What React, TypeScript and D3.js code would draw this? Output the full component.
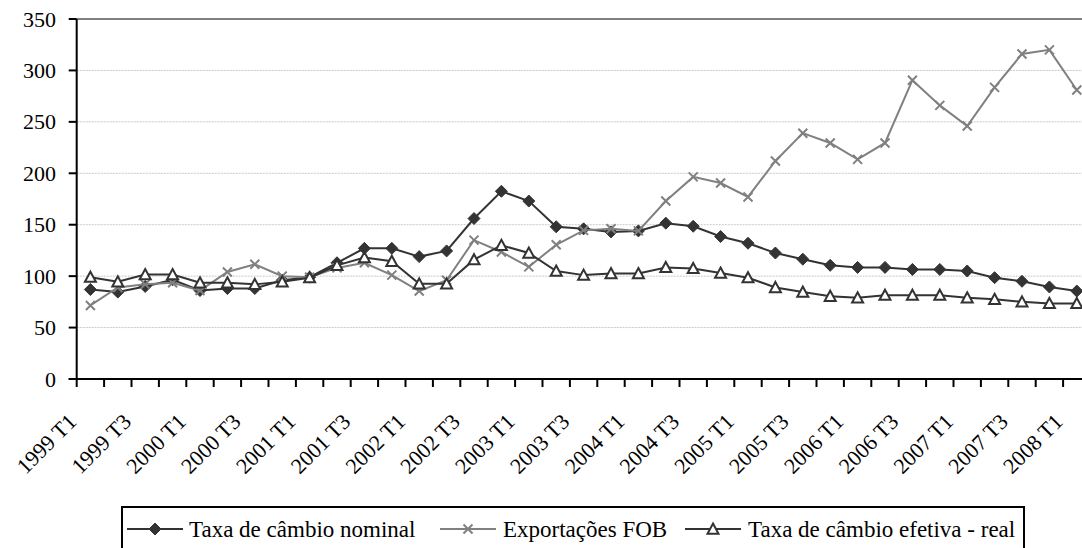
import React from "react";
import * as d3 from "d3";

const categories = [
  "1999 T1","1999 T2","1999 T3","1999 T4",
  "2000 T1","2000 T2","2000 T3","2000 T4",
  "2001 T1","2001 T2","2001 T3","2001 T4",
  "2002 T1","2002 T2","2002 T3","2002 T4",
  "2003 T1","2003 T2","2003 T3","2003 T4",
  "2004 T1","2004 T2","2004 T3","2004 T4",
  "2005 T1","2005 T2","2005 T3","2005 T4",
  "2006 T1","2006 T2","2006 T3","2006 T4",
  "2007 T1","2007 T2","2007 T3","2007 T4",
  "2008 T1",
];

const nominal = [87,84.5,90,96.5,86,88,88,96,99,113,127,127,119,124.5,156,182.5,173,148,146,143,144,151.5,148.5,138.5,132,122.5,116.5,110.5,108.5,108.5,106.5,106.5,105,98.5,95,89.5,85.5];
const exportsFob = [71.5,89,92,93.5,86,104,111.5,100,99,108,113,101,85.5,96,135,123.5,109,130.5,144.5,146,144,173,196.5,190.5,177,212,239,229.5,213.5,229.5,290.5,266,246,283.5,316,320,281];
const realRate = [99,94.5,101.5,101.5,93.5,93.5,92,94.5,98.5,110.5,118,114.5,92.5,92.5,116,130,122.5,105,101,102.5,102.5,108.5,107.5,103,98.5,89,84.5,80.5,79,81.5,81.5,81.5,79,77.5,75,73.5,73.5];

const yTicks = [0, 50, 100, 150, 200, 250, 300, 350];
const seriesNames = ["Taxa de câmbio nominal", "Exportações FOB", "Taxa de câmbio efetiva - real"];

const FONT = "Times New Roman";

function Marker({ kind, x, y }: { kind: string; x: number; y: number }) {
  if (kind === "diamond") {
    const r = 6;
    return <path d={`M${x},${y - r}L${x + r},${y}L${x},${y + r}L${x - r},${y}Z`} fill="#333" stroke="#333" strokeWidth={1} />;
  }
  if (kind === "x") {
    const r = 4.5;
    return <path d={`M${x - r},${y - r}L${x + r},${y + r}M${x - r},${y + r}L${x + r},${y - r}`} stroke="#808080" strokeWidth={2} fill="none" />;
  }
  const r = 5.5;
  return <path d={`M${x},${y - r}L${x + r},${y + r * 0.85}L${x - r},${y + r * 0.85}Z`} fill="#fff" stroke="#333" strokeWidth={2} strokeLinejoin="miter" />;
}

function T(props: any) {
  return <text {...props} fontFamily={FONT} style={{ fontFamily: FONT }} fill="#000" />;
}

export default function App() {
  const W = 1082, H = 548;
  const left = 76.7, step = 27.4, top = 19, bottom = 379;
  const x = d3.scaleBand<string>().domain(categories).range([left, left + step * categories.length]);
  const y = d3.scaleLinear().domain([0, 350]).range([bottom, top]);
  const cx = (c: string) => (x(c) as number) + x.bandwidth() / 2;

  const series = [
    { name: seriesNames[0], values: nominal, color: "#333", kind: "diamond" },
    { name: seriesNames[1], values: exportsFob, color: "#808080", kind: "x" },
    { name: seriesNames[2], values: realRate, color: "#333", kind: "triangle" },
  ];

  const line = d3.line<number>().x((_, i) => cx(categories[i])).y((v) => y(v));
  const right = left + step * categories.length;

  const legendTop = 507;
  const legendItems = [
    { sx: 127, tx: 189 },
    { sx: 440, tx: 503 },
    { sx: 685, tx: 748 },
  ];

  return (
    <svg width={W} height={H} fontFamily={FONT} style={{ position: "absolute", left: 0, top: 0, fontFamily: FONT }}>
      <rect x={0} y={0} width={W} height={H} fill="#fff" />
      {yTicks.filter((t) => t > 0 && t < 350).map((t) => (
        <line key={t} x1={left} x2={right} y1={y(t)} y2={y(t)} stroke="#c8c8c8" strokeWidth={1} strokeDasharray="2,1" />
      ))}
      <line x1={left} x2={right} y1={y(350)} y2={y(350)} stroke="#808080" strokeWidth={2} />
      <line x1={left} x2={left} y1={top} y2={bottom} stroke="#000" strokeWidth={2} />
      {yTicks.map((t) => (
        <g key={t}>
          <line x1={left - 8} x2={left} y1={y(t)} y2={y(t)} stroke="#000" strokeWidth={2} />
          <T x={56} y={y(t) + 7.5} textAnchor="end" fontSize={22}>{t}</T>
        </g>
      ))}
      <line x1={left - 8} x2={right} y1={bottom} y2={bottom} stroke="#000" strokeWidth={2} />
      {categories.map((c) => (
        <line key={c} x1={x(c) as number} x2={x(c) as number} y1={bottom} y2={bottom + 8} stroke="#000" strokeWidth={2} />
      ))}
      {categories.filter((_, i) => i % 2 === 0).map((c) => {
        const px = (x(c) as number) + 1;
        const py = 423;
        return (
          <T key={c} x={px} y={py} textAnchor="end" fontSize={22} transform={`rotate(-45 ${px} ${py})`}>{c}</T>
        );
      })}
      {series.map((s) => (
        <g key={s.name}>
          <path d={line(s.values) || ""} fill="none" stroke={s.color} strokeWidth={2} />
          {s.values.map((v, i) => (
            <Marker key={i} kind={s.kind} x={cx(categories[i])} y={y(v)} />
          ))}
        </g>
      ))}
      <rect x={122} y={legendTop} width={902} height={45} fill="#fff" stroke="#000" strokeWidth={2} />
      {series.map((s, i) => {
        const it = legendItems[i];
        const ly = legendTop + 22;
        return (
          <g key={s.name}>
            <line x1={it.sx} x2={it.sx + 56} y1={ly} y2={ly} stroke={s.color} strokeWidth={2} />
            <Marker kind={s.kind} x={it.sx + 28} y={ly} />
            <T x={it.tx} y={ly + 8} fontSize={23}>{s.name}</T>
          </g>
        );
      })}
    </svg>
  );
}
